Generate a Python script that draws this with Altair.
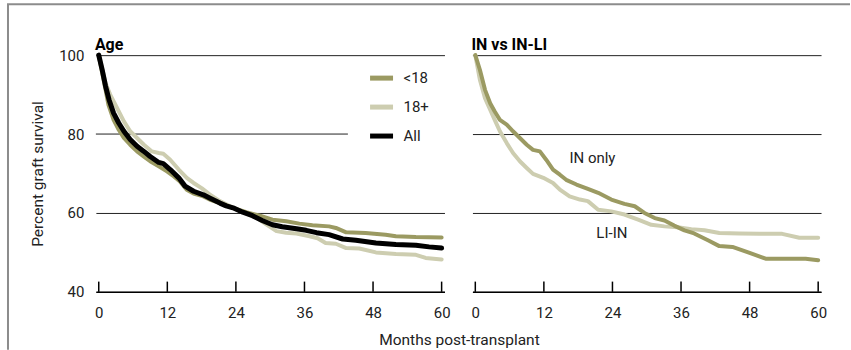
import altair as alt
import pandas as pd

OLIVE = "#9b9a62"
LIGHT = "#cdcdb0"
BLACK = "#000000"
FONT = "Roboto"
TITLE_FONT = "Roboto"

# ---------------- data: Age panel ----------------
months_u18 = [0, 0.6, 1.2, 1.7, 2.6, 3.5, 4.4, 5.5, 6.7, 7.9, 9.0, 10.5, 12.0, 13.1, 14.2,
              15.4, 16.6, 18.3, 19.4, 21.2, 23.5, 25.8, 28.2, 30.4, 32.8, 35.1, 37.4, 40.3,
              41.5, 43.3, 46.7, 50.2, 52.0, 55.5, 60]
surv_u18 = [100, 95.5, 91.2, 87.4, 83.6, 81.1, 79.0, 77.3, 75.6, 74.3, 73.1, 71.8, 70.5, 69.3,
            68.0, 65.9, 64.9, 64.2, 63.4, 62.5, 61.3, 60.2, 59.3, 58.3, 57.9, 57.3, 56.9, 56.6,
            56.2, 55.1, 54.9, 54.5, 54.1, 53.9, 53.8]

months_18p = [0, 0.6, 1.2, 2.0, 3.2, 4.4, 5.5, 6.7, 7.9, 9.3, 10.5, 11.3, 12.5, 14.0, 15.4,
              16.6, 18.0, 19.4, 21.2, 23.5, 25.8, 27.6, 29.3, 31.1, 32.8, 34.6, 36.9, 38.3,
              39.7, 41.5, 43.3, 45.6, 48.5, 52.0, 55.5, 57.2, 60]
surv_18p = [100, 96.5, 92.9, 90.0, 86.6, 83.2, 80.7, 79.0, 77.3, 75.6, 75.2, 75.0, 73.5, 71.0,
            68.9, 67.6, 66.3, 64.7, 63.0, 61.3, 59.9, 58.8, 57.1, 55.4, 55.0, 54.8, 54.1, 53.6,
            52.4, 52.2, 51.1, 51.0, 50.0, 49.6, 49.4, 48.6, 48.2]

months_all = [0, 0.6, 1.2, 1.8, 2.6, 3.5, 4.4, 5.5, 6.7, 7.9, 9.0, 10.5, 11.3, 12.5, 14.0,
              15.1, 16.6, 18.3, 19.4, 21.2, 22.3, 23.5, 25.2, 26.9, 28.6, 30.4, 32.1, 34.6,
              36.3, 38.1, 40.3, 42.7, 45.0, 48.5, 52.0, 55.5, 57.8, 60]
surv_all = [100, 96.3, 92.1, 88.7, 85.3, 82.8, 80.7, 78.6, 76.9, 75.6, 74.3, 72.8, 72.5, 71.0,
            68.9, 66.8, 65.5, 64.6, 63.8, 62.5, 61.8, 61.3, 60.2, 59.3, 58.1, 57.0, 56.5, 56.0,
            55.6, 55.0, 54.5, 53.4, 53.1, 52.4, 52.0, 51.8, 51.4, 51.1]

# ---------------- data: IN vs IN-LI panel ----------------
months_in = [0, 0.8, 1.7, 2.6, 3.4, 4.3, 5.5, 6.6, 7.8, 9.0, 10.1, 11.3, 12.4, 13.6, 14.8,
             15.9, 17.7, 19.7, 21.5, 23.8, 26.1, 27.9, 29.6, 31.4, 33.1, 34.8, 36.6, 38.3,
             40.8, 42.7, 45.0, 48.0, 50.8, 53.7, 57.8, 60]
surv_in = [100, 96.3, 91.2, 87.8, 85.7, 83.6, 82.4, 80.7, 79.0, 77.3, 76.0, 75.6, 73.5, 71.0,
           69.7, 68.4, 67.2, 66.1, 65.1, 63.4, 62.3, 61.7, 60.0, 58.7, 58.1, 56.8, 55.6, 54.8,
           53.0, 51.6, 51.4, 49.9, 48.4, 48.4, 48.4, 48.0]

months_li = [0, 0.8, 1.7, 2.6, 3.4, 4.3, 5.5, 6.6, 7.8, 9.0, 10.1, 11.9, 13.6, 14.8, 16.5,
             18.3, 19.7, 21.5, 23.8, 26.1, 28.5, 30.8, 33.1, 35.4, 37.8, 40.1, 42.7, 46.2,
             49.7, 53.7, 56.7, 60]
surv_li = [100, 93.8, 89.1, 86.2, 83.6, 80.7, 77.7, 75.2, 73.1, 71.4, 69.9, 68.9, 67.6, 65.9,
           64.2, 63.4, 63.0, 60.8, 60.4, 59.6, 58.3, 57.0, 56.6, 56.4, 55.9, 55.6, 54.9, 54.8,
           54.7, 54.7, 53.7, 53.7]

age_groups = ["<18", "18+", "All"]
age_colors = [OLIVE, LIGHT, BLACK]
in_groups = ["IN only", "LI-IN"]
in_colors = [OLIVE, LIGHT]

tick_months = [0, 12, 24, 36, 48, 60]
y_ticks = [40, 60, 80, 100]

in_label_text = ["IN only", "LI-IN"]
in_label_month = [20.5, 23.9]
in_label_surv = [74.0, 55.0]


def series_df(months, surv, group):
    return pd.DataFrame({"month": months, "surv": surv, "group": group})


df_u18 = series_df(months_u18, surv_u18, "<18")
df_18p = series_df(months_18p, surv_18p, "18+")
df_all = series_df(months_all, surv_all, "All")
df_in = series_df(months_in, surv_in, "IN only")
df_li = series_df(months_li, surv_li, "LI-IN")
ticks_df = pd.DataFrame({"month": tick_months, "lo": 40, "hi": 42.6})
labels_df = pd.DataFrame({"label": in_label_text, "month": in_label_month, "surv": in_label_surv})
dummy = pd.DataFrame({"k": [0]})

W, H = 349, 237
xscale = alt.Scale(domain=[-0.5, 60.5], nice=False, zero=False)
yscale = alt.Scale(domain=[40, 100], nice=False, zero=False)


def x_axis(title):
    kw = dict(values=tick_months, ticks=False, grid=False, domainColor="black", domainWidth=1.5,
              labelFont=FONT, labelFontSize=15, labelColor="#222", labelPadding=14,
              labelFlush=False)
    if title:
        kw.update(title=title, titleFont=FONT, titleFontSize=15.5, titleFontWeight="normal",
                  titleColor="#222", titleX=363.5, titleY=53, titleAlign="center",
                  titleBaseline="alphabetic")
    else:
        kw.update(title=None)
    return alt.Axis(**kw)


def y_axis(show_labels):
    kw = dict(values=y_ticks, grid=True, gridColor="#222", gridWidth=1, domain=False, ticks=False)
    if show_labels:
        kw.update(labelFont=FONT, labelFontSize=15, labelColor="#222", labelPadding=12,
                  title="Percent graft survival", titleFont=FONT, titleFontSize=15.5,
                  titleFontWeight="normal", titleColor="#222", titlePadding=13,
                  gridOpacity={"condition": {"test": "datum.value == 80", "value": 0}, "value": 1})
    else:
        kw.update(labels=False, title=None)
    return alt.Axis(**kw)


def panel_layers(xa, ya):
    X = lambda f: alt.X(f, scale=xscale, axis=xa)
    Y = lambda f: alt.Y(f, scale=yscale, axis=ya)

    def tick_layer():
        return alt.Chart(ticks_df).mark_rule(color="black", strokeWidth=1.5).encode(
            x=X("month:Q"), y=Y("lo:Q"), y2="hi:Q")

    def line(df, color_enc, width):
        return alt.Chart(df).mark_line(strokeWidth=width, strokeJoin="round",
                                       strokeCap="round").encode(
            x=X("month:Q"), y=Y("surv:Q"), color=color_enc)

    return tick_layer, line, X, Y


age_color = alt.Color(
    "group:N",
    scale=alt.Scale(domain=age_groups, range=age_colors),
    legend=alt.Legend(orient="none", legendX=272, legendY=9, title=None,
                      symbolType="stroke", symbolStrokeWidth=5, symbolSize=529,
                      labelFont=FONT, labelFontSize=15, labelColor="#222", labelOffset=8,
                      rowPadding=5, padding=0),
)
in_color = alt.Color("group:N", scale=alt.Scale(domain=in_groups, range=in_colors), legend=None)


def panel_title(text):
    return alt.Chart(dummy).mark_text(font=TITLE_FONT, fontSize=16, fontWeight="bold",
                                      color="black", align="left",
                                      baseline="alphabetic").encode(
        x=alt.value(-1), y=alt.value(-5), text=alt.value(text))


# ---------- left panel ----------
tl, ln, X, Y = panel_layers(x_axis("Months post-transplant"), y_axis(True))

grid80 = alt.Chart(dummy).mark_rule(color="#222", strokeWidth=1).encode(
    x=alt.datum(-0.5), x2=alt.datum(43.6), y=alt.datum(80)
)
frame_left = alt.Chart(dummy).mark_rule(color="#8c8c8c", strokeWidth=2).encode(
    x=alt.value(-88), y=alt.value(-51), y2=alt.value(295)
)
frame_top = alt.Chart(dummy).mark_rule(color="#8c8c8c", strokeWidth=2).encode(
    x=alt.value(-89), x2=alt.value(755), y=alt.value(-51)
)

left = alt.layer(
    tl(),
    grid80,
    ln(df_18p, age_color, 4),
    ln(df_u18, age_color, 4),
    ln(df_all, age_color, 5),
    panel_title("Age"),
    frame_left,
    frame_top,
).properties(width=W, height=H)

# ---------- right panel ----------
tr, rn, XR, YR = panel_layers(x_axis(None), y_axis(False))

texts = alt.Chart(labels_df).mark_text(font=FONT, fontSize=15, color="#222", align="center",
                                        baseline="middle").encode(
    x=XR("month:Q"), y=YR("surv:Q"), text="label:N")

right = alt.layer(
    tr(),
    rn(df_li, in_color, 4),
    rn(df_in, in_color, 4),
    texts,
    panel_title("IN vs IN-LI"),
).properties(width=W, height=H)

chart = alt.hconcat(left, right, spacing=28, bounds="flush").resolve_scale(
    color="independent"
).properties(
    padding={"left": 6, "top": 3, "right": 0, "bottom": 0},
    background="white",
).configure_view(stroke=None)

chart.save("out.html", embed_options={"renderer": "svg", "actions": False})
